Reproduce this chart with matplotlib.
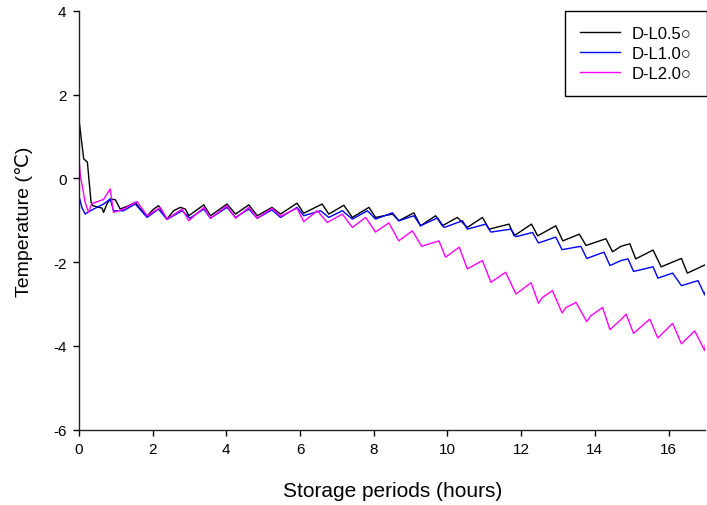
import matplotlib
matplotlib.use("Agg")
import matplotlib.pyplot as plt

plt.rcParams['font.family'] = ['Liberation Sans', 'DejaVu Sans']
plt.rcParams['axes.unicode_minus'] = False

labels = ["D-L0.5○", "D-L1.0○", "D-L2.0○"]
colors = ["black", "#0000FF", "#FF00FF"]

# D-L0.5
t_05 = [0, 0.06, 0.13, 0.23, 0.33, 0.38, 0.63, 0.67, 0.76, 0.85, 0.99, 1.12, 1.35, 1.53, 1.67,
        1.85, 2.03, 2.16, 2.39, 2.57, 2.75, 2.89, 2.98, 3.39, 3.57, 4.02, 4.25, 4.61, 4.84,
        5.24, 5.47, 5.92, 6.10, 6.60, 6.78, 7.19, 7.42, 7.87, 8.05, 8.51, 8.68, 9.09, 9.27,
        9.68, 9.86, 10.27, 10.54, 10.95, 11.13, 11.67, 11.81, 12.28, 12.45, 12.94, 13.13,
        13.58, 13.76, 14.30, 14.48, 14.71, 14.95, 15.11, 15.58, 15.80, 16.35, 16.51, 17.0]
v_05 = [1.42, 0.98, 0.47, 0.39, -0.57, -0.65, -0.71, -0.81, -0.61, -0.49, -0.51, -0.73, -0.65, -0.57, -0.73,
        -0.89, -0.73, -0.65, -0.97, -0.77, -0.69, -0.73, -0.89, -0.63, -0.89, -0.61, -0.85, -0.63, -0.89,
        -0.69, -0.85, -0.59, -0.83, -0.61, -0.85, -0.64, -0.93, -0.69, -0.93, -0.85, -1.01, -0.82, -1.13,
        -0.89, -1.13, -0.93, -1.17, -0.93, -1.21, -1.09, -1.37, -1.09, -1.37, -1.13, -1.49,
        -1.33, -1.60, -1.44, -1.75, -1.62, -1.56, -1.92, -1.71, -2.11, -1.91, -2.26, -2.06]

# D-L1.0
t_10 = [0, 0.08, 0.17, 0.31, 0.67, 0.85, 0.94, 1.21, 1.53, 1.85, 2.16, 2.39, 2.80, 3.01,
        3.39, 3.57, 4.02, 4.25, 4.61, 4.84, 5.24, 5.47, 5.92, 6.10, 6.56, 6.78, 7.15, 7.42,
        7.83, 8.05, 8.51, 8.68, 9.09, 9.27, 9.73, 9.91, 10.41, 10.54, 11.04, 11.18, 11.72,
        11.86, 12.31, 12.47, 12.94, 13.11, 13.62, 13.78, 14.25, 14.41, 14.71, 14.90, 15.05,
        15.58, 15.71, 16.11, 16.35, 16.80, 16.98, 17.0]
v_10 = [-0.41, -0.69, -0.85, -0.77, -0.61, -0.49, -0.77, -0.77, -0.61, -0.93, -0.73, -0.98, -0.77, -0.95,
        -0.73, -0.95, -0.69, -0.93, -0.73, -0.95, -0.75, -0.93, -0.69, -0.89, -0.77, -0.93, -0.77, -0.97,
        -0.77, -0.97, -0.82, -1.01, -0.89, -1.13, -0.94, -1.17, -1.01, -1.21, -1.09, -1.28, -1.21,
        -1.39, -1.29, -1.54, -1.40, -1.70, -1.62, -1.91, -1.76, -2.08, -1.96, -1.92, -2.22,
        -2.11, -2.38, -2.26, -2.56, -2.44, -2.78, -2.70]

# D-L2.0
t_20 = [0, 0.04, 0.17, 0.26, 0.35, 0.67, 0.85, 0.94, 1.21, 1.58, 1.85, 2.21, 2.39, 2.80, 2.98,
        3.39, 3.57, 4.02, 4.25, 4.61, 4.84, 5.24, 5.47, 5.92, 6.10, 6.47, 6.74, 7.15, 7.42,
        7.78, 8.05, 8.41, 8.68, 9.05, 9.30, 9.77, 9.95, 10.32, 10.54, 10.95, 11.18, 11.58,
        11.86, 12.27, 12.47, 12.58, 12.85, 13.11, 13.22, 13.49, 13.78, 13.89, 14.21, 14.41,
        14.71, 14.85, 15.05, 15.49, 15.71, 16.11, 16.35, 16.71, 16.98, 17.0]
v_20 = [0.47, 0.07, -0.57, -0.81, -0.60, -0.50, -0.25, -0.81, -0.73, -0.55, -0.89, -0.69, -0.97, -0.73, -1.01,
        -0.69, -0.95, -0.65, -0.95, -0.69, -0.95, -0.71, -0.90, -0.71, -1.03, -0.77, -1.05, -0.85, -1.17,
        -0.93, -1.28, -1.06, -1.49, -1.25, -1.62, -1.49, -1.88, -1.64, -2.16, -1.96, -2.48, -2.24,
        -2.76, -2.49, -2.98, -2.84, -2.68, -3.21, -3.08, -2.96, -3.42, -3.28, -3.08, -3.61,
        -3.37, -3.24, -3.70, -3.36, -3.81, -3.46, -3.95, -3.64, -4.11, -3.97]

x_ticks = [0, 2, 4, 6, 8, 10, 12, 14, 16]
y_ticks = [-6, -4, -2, 0, 2, 4]

fig = plt.figure(figsize=(7.07, 5.06), dpi=100)
ax = fig.add_axes([78.9 / 707, 75.3 / 506, (705.4 - 78.9) / 707, (430.7 - 12.0) / 506])

for t, v, lab, c in zip([t_05, t_10, t_20], [v_05, v_10, v_20], labels, colors):
    ax.plot(t, v, color=c, lw=1.0, label=lab)

ax.set_xlim(0, 17)
ax.set_ylim(-6, 4)
ax.set_xticks(x_ticks)
ax.set_yticks(y_ticks)
ax.tick_params(direction='out', length=4, width=1, labelsize=11, colors='black', pad=5)
for s in ['top', 'right']:
    ax.spines[s].set_visible(False)
for s in ['left', 'bottom']:
    ax.spines[s].set_linewidth(1.0)
    ax.spines[s].set_color('#222222')

ax.set_xlabel("Storage periods (hours)", fontsize=15, labelpad=18)
ax.set_ylabel("Temperature (℃)", fontsize=14, labelpad=14)

leg = ax.legend(loc='upper left', bbox_to_anchor=(565 / 707, 494 / 506),
                bbox_transform=fig.transFigure, borderaxespad=0, fontsize=12,
                frameon=True, fancybox=False, edgecolor='black', framealpha=1,
                handlelength=2.4, handletextpad=0.7, labelspacing=0.3, borderpad=0.9)
leg.get_frame().set_linewidth(1.0)

fig.savefig("out.png", dpi=100)
